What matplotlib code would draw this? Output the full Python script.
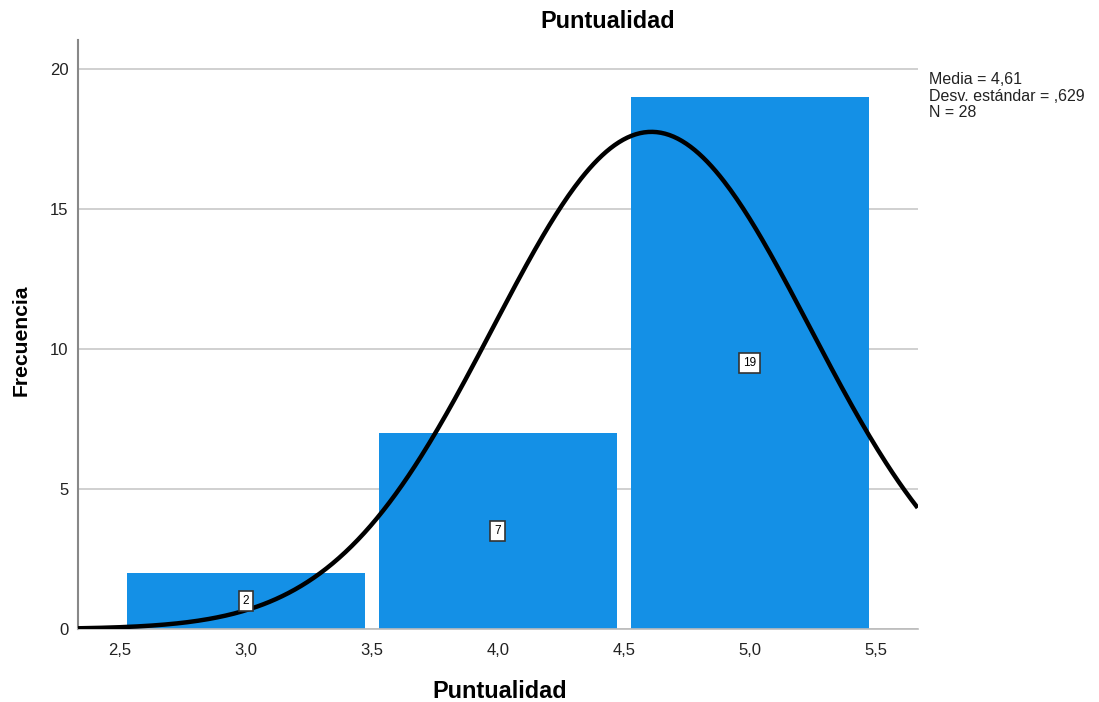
import numpy as np
import matplotlib
matplotlib.use("Agg")
import matplotlib.pyplot as plt

plt.rcParams["font.family"] = ["Liberation Sans", "DejaVu Sans"]

# histogram data
bin_centers = [3.0, 4.0, 5.0]
counts = [2, 7, 19]
media = 4.61
desv = 0.629
n = 28

fig = plt.figure(figsize=(10.99, 7.02), dpi=100)
ax = fig.add_axes([0.071, 0.104, 0.764, 0.839])

ax.bar(bin_centers, counts, width=0.945, color="#1490E6", zorder=2)

# normal curve from the stats shown
xs = np.linspace(2.333, 5.667, 400)
ys = n * 1.0 / (desv * np.sqrt(2 * np.pi)) * np.exp(-0.5 * ((xs - media) / desv) ** 2)
ax.plot(xs, ys, color="black", lw=3.2, zorder=4, solid_capstyle="butt")

# count labels in small boxes
for c, v in zip(bin_centers, counts):
    ax.text(c, v / 2, str(v), ha="center", va="center", fontsize=8.5, zorder=5,
            bbox=dict(boxstyle="square,pad=0.35", fc="white", ec="#333333", lw=1.2))

ax.set_xlim(2.333, 5.667)
ax.set_ylim(0, 21.04)
ax.set_yticks([0, 5, 10, 15, 20])
ax.set_xticks([2.5, 3.0, 3.5, 4.0, 4.5, 5.0, 5.5])
ax.set_xticklabels(["2,5", "3,0", "3,5", "4,0", "4,5", "5,0", "5,5"])
ax.tick_params(length=0, labelsize=12, colors="#222222")
ax.tick_params(axis="x", pad=10)
ax.tick_params(axis="y", pad=7)
ax.grid(axis="y", color="#C8C8C8", lw=1.2, zorder=1)
for s in ["top", "right"]:
    ax.spines[s].set_visible(False)
ax.spines["left"].set_color("#888888")
ax.spines["left"].set_linewidth(1.5)
ax.spines["bottom"].set_color("#BBBBBB")
ax.spines["bottom"].set_linewidth(1.2)

fig.text(608 / 1099, 1 - 21 / 702, "Puntualidad", fontsize=16.9, fontweight="bold",
         ha="center", va="center")
fig.text(500 / 1099, 1 - 691 / 702, "Puntualidad", fontsize=16.9, fontweight="bold",
         ha="center", va="center")
fig.text(21 / 1099, 1 - 340 / 702, "Frecuencia", fontsize=15.2, fontweight="bold",
         ha="center", va="center", rotation=90)

fig.text(0.845, 0.897, "Media = 4,61\nDesv. estándar = ,629\nN = 28",
         fontsize=11.5, va="top", ha="left", linespacing=1.1, color="#222222")

fig.savefig("out.png", dpi=100)
